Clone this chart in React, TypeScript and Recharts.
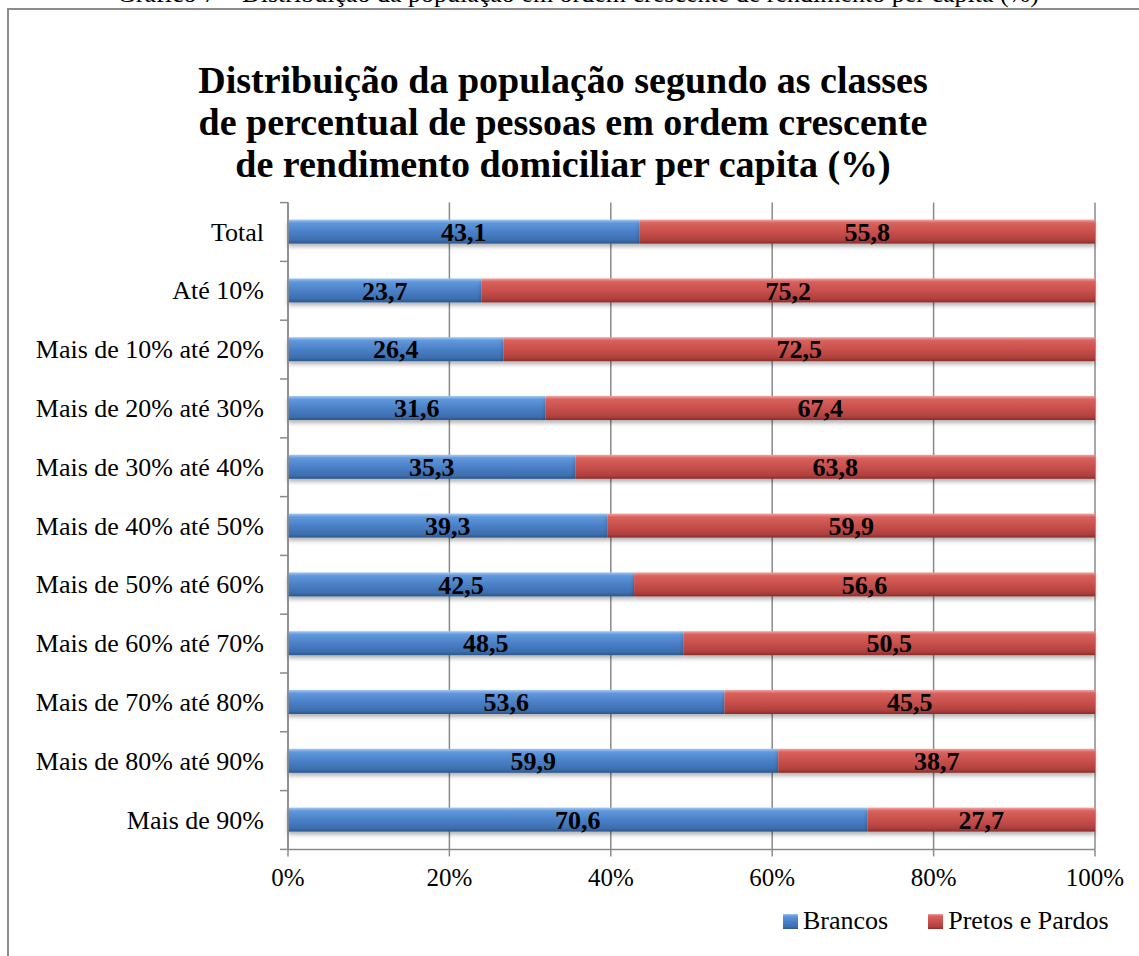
import React from 'react';
import { BarChart, Bar, XAxis, YAxis, CartesianGrid, Legend, LabelList } from 'recharts';

// categorias (de cima para baixo)
const categories = [
  'Total',
  'Até 10%',
  'Mais de 10% até 20%',
  'Mais de 20% até 30%',
  'Mais de 30% até 40%',
  'Mais de 40% até 50%',
  'Mais de 50% até 60%',
  'Mais de 60% até 70%',
  'Mais de 70% até 80%',
  'Mais de 80% até 90%',
  'Mais de 90%',
];
const brancos = [43.1, 23.7, 26.4, 31.6, 35.3, 39.3, 42.5, 48.5, 53.6, 59.9, 70.6];
const pretosPardos = [55.8, 75.2, 72.5, 67.4, 63.8, 59.9, 56.6, 50.5, 45.5, 38.7, 27.7];
const xTicks = [0, 0.2, 0.4, 0.6, 0.8, 1];

const titleLines = [
  'Distribuição da população segundo as classes',
  'de percentual de pessoas em ordem crescente',
  'de rendimento domiciliar per capita (%)',
];
const caption = 'Gráfico 7 – Distribuição da população em ordem crescente de rendimento per capita (%)';

const data = categories.map((name, i) => ({
  name,
  brancos: brancos[i],
  pretos: pretosPardos[i],
}));

const W = 1139;
const H = 956;
const PLOT_LEFT = 288;
const PLOT_RIGHT = 1095;
const PLOT_TOP = 202.6;
const PLOT_BOTTOM = 849.4;
const BAND = (PLOT_BOTTOM - PLOT_TOP) / categories.length;
const FONT = '"Liberation Serif", "Times New Roman", serif';
const GRID = '#8a8a8a';

const fmt = (v: any) => Number(v).toFixed(1).replace('.', ',');

const CategoryTick = (props: any) => {
  const { y, payload, index } = props;
  return (
    <g>
      <text
        x={PLOT_LEFT - 24}
        y={y}
        textAnchor="end"
        dominantBaseline="central"
        fontSize={26}
        fontFamily={FONT}
        fill="#000"
      >
        {payload.value}
      </text>
      <line x1={PLOT_LEFT - 8} x2={PLOT_LEFT} y1={y - BAND / 2} y2={y - BAND / 2} stroke={GRID} strokeWidth={1.5} />
      {index === categories.length - 1 && (
        <line x1={PLOT_LEFT - 8} x2={PLOT_LEFT} y1={y + BAND / 2} y2={y + BAND / 2} stroke={GRID} strokeWidth={1.5} />
      )}
    </g>
  );
};

// barra com sombra leve, como no Excel
const ShadedBar = (props: any) => {
  const { x, y, width, height, fill } = props;
  if (!width || width <= 0) return null;
  return <rect x={x} y={y} width={width} height={height} fill={fill} filter="url(#barShadow)" />;
};

const renderLegend = (props: any) => {
  const { payload } = props;
  return (
    <div style={{ display: 'flex', alignItems: 'center', fontFamily: FONT, fontSize: 26, color: '#000' }}>
      {(payload || []).map((entry: any, i: number) => (
        <div key={i} style={{ display: 'flex', alignItems: 'center', marginRight: i === 0 ? 40 : 0 }}>
          <svg width={15} height={15} style={{ marginRight: 5 }}>
            <rect x={0} y={0} width={15} height={15} fill={i === 0 ? 'url(#gBlue)' : 'url(#gRed)'} />
          </svg>
          <span>{entry.value}</span>
        </div>
      ))}
    </div>
  );
};

export default function App() {
  return (
    <div style={{ position: 'absolute', left: 0, top: 0, width: W, height: H, overflow: 'hidden', background: '#fff' }}>
      <div
        style={{
          position: 'absolute',
          left: 7,
          top: 8,
          width: 1300,
          height: 1100,
          borderLeft: '2px solid #8c8c8c',
          borderTop: '2px solid #8c8c8c',
        }}
      />
      <svg width={W} height={H} style={{ position: 'absolute', left: 0, top: 0 }}>
        <text x={578} y={2} textAnchor="middle" fontSize={26} fontFamily={FONT} fill="#000">
          {caption}
        </text>
        {titleLines.map((t, i) => (
          <text key={i} x={563} y={93 + i * 42} textAnchor="middle" fontSize={38} fontWeight="bold" fontFamily={FONT} fill="#000">
            {t}
          </text>
        ))}
      </svg>
      <div style={{ position: 'absolute', left: 0, top: 0 }}>
        <BarChart
          width={W}
          height={H}
          data={data}
          layout="vertical"
          stackOffset="expand"
          barSize={24}
          margin={{ top: PLOT_TOP, right: W - PLOT_RIGHT, bottom: H - PLOT_BOTTOM - 40, left: 8 }}
        >
          <defs>
            <linearGradient id="gBlue" x1="0" y1="0" x2="0" y2="1">
              <stop offset="0%" stopColor="#a4c8f2" />
              <stop offset="14%" stopColor="#6098dc" />
              <stop offset="50%" stopColor="#4b80c7" />
              <stop offset="86%" stopColor="#3c6eae" />
              <stop offset="100%" stopColor="#2b568c" />
            </linearGradient>
            <linearGradient id="gRed" x1="0" y1="0" x2="0" y2="1">
              <stop offset="0%" stopColor="#f2a6a3" />
              <stop offset="14%" stopColor="#d8615d" />
              <stop offset="50%" stopColor="#c9504c" />
              <stop offset="86%" stopColor="#af403d" />
              <stop offset="100%" stopColor="#8a2c2a" />
            </linearGradient>
            <filter id="barShadow" x="-5%" y="-20%" width="110%" height="160%">
              <feDropShadow dx="0" dy="3" stdDeviation="2" floodColor="#000" floodOpacity="0.3" />
            </filter>
          </defs>
          <CartesianGrid horizontal={false} stroke={GRID} strokeWidth={1.5} />
          <XAxis
            type="number"
            domain={[0, 1]}
            ticks={xTicks}
            height={40}
            tickSize={7}
            tickMargin={12}
            tickFormatter={(v: number) => `${Math.round(v * 100)}%`}
            axisLine={{ stroke: GRID, strokeWidth: 1.5 }}
            tickLine={{ stroke: GRID, strokeWidth: 1.5 }}
            tick={{ fontSize: 25, fontFamily: FONT, fill: '#000' }}
          />
          <YAxis
            type="category"
            dataKey="name"
            width={280}
            interval={0}
            tickLine={false}
            axisLine={{ stroke: GRID, strokeWidth: 1.5 }}
            tick={<CategoryTick />}
          />
          <Legend
            layout="horizontal"
            verticalAlign="middle"
            align="center"
            content={renderLegend}
            wrapperStyle={{ position: 'absolute', left: 783, top: 906, width: 'auto', height: 32 }}
          />
          <Bar dataKey="brancos" name="Brancos" stackId="a" fill="url(#gBlue)" shape={<ShadedBar />} isAnimationActive={false}>
            <LabelList
              dataKey="brancos"
              position="center"
              formatter={fmt}
              style={{ fontSize: 26, fontWeight: 'bold', fontFamily: FONT, fill: '#000' }}
            />
          </Bar>
          <Bar dataKey="pretos" name="Pretos e Pardos" stackId="a" fill="url(#gRed)" shape={<ShadedBar />} isAnimationActive={false}>
            <LabelList
              dataKey="pretos"
              position="center"
              formatter={fmt}
              style={{ fontSize: 26, fontWeight: 'bold', fontFamily: FONT, fill: '#000' }}
            />
          </Bar>
        </BarChart>
      </div>
    </div>
  );
}
